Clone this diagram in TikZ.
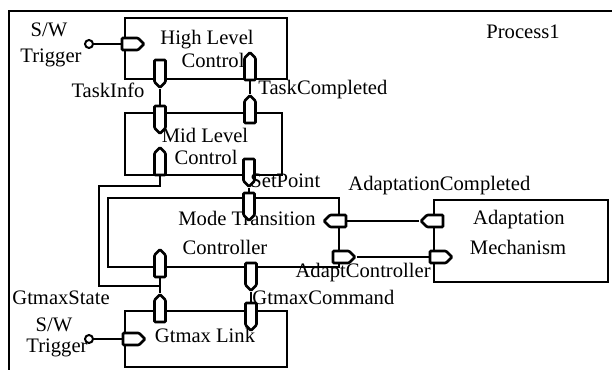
\documentclass[tikz,border=0pt]{standalone}
\usepackage{fontspec}
\setmainfont{Liberation Serif}
\usetikzlibrary{shapes.symbols}
\begin{document}
\begin{tikzpicture}[x=0.5pt,y=-0.5pt,
  every node/.style={font=\fontsize{10.3pt}{11pt}\selectfont, inner sep=0pt},
  block/.style={draw, line width=1.4pt, minimum width=#1},
  portv/.style={signal, signal from=nowhere, signal to=#1, draw, fill=white,
    line width=1.3pt, rounded corners=0.5pt, minimum width=5.5pt, minimum height=11pt},
  porth/.style={signal, signal from=nowhere, signal to=#1, draw, fill=white,
    line width=1.3pt, rounded corners=0.5pt, minimum width=11pt, minimum height=6pt},
  trig/.style={circle, draw, fill=white, line width=1pt, minimum size=4pt},
  wire/.style={line width=1.1pt},
  lbl/.style={}]
\useasboundingbox (0,0) rectangle (612,370);

% enclosing process frame
\draw[line width=1.2pt] (9,370) -- (9,11) -- (612,11);
\node[lbl, anchor=west] (proc) at (486,32) {Process1};

% blocks
\node[block=81pt, minimum height=30.5pt] (hlc) at (206,48.5) {};
\node[block=78.5pt, minimum height=31pt] (mlc) at (203.5,144) {};
\node[block=115.5pt, minimum height=34.5pt] (mtc) at (223.5,232.5) {};
\node[block=81pt, minimum height=28pt] (gl) at (206,339) {};
\node[block=87pt, minimum height=41pt] (am) at (521,241) {};

% block titles
\node[lbl] (hlcA) at (207,40) {High Level};
\node[lbl] (hlcB) at (213,60) {Control};
\node[lbl] (mlcA) at (205,135) {Mid Level};
\node[lbl] (mlcB) at (206,157) {Control};
\node[lbl] (mtcA) at (247,218) {Mode Transition};
\node[lbl] (mtcB) at (225,247) {Controller};
\node[lbl] (glA) at (205,335) {Gtmax Link};
\node[lbl] (amA) at (519,220) {Adaptation};
\node[lbl] (amB) at (518,247) {Mechanism};

% ports
\node[porth=east] (hTrig) at (130,44) {};
\node[portv=south] (hInfo) at (160,71) {};
\node[portv=north] (hDone) at (250,69) {};
\node[portv=south] (mInfo) at (160,117) {};
\node[portv=north] (mDone) at (250,112) {};
\node[portv=north] (mState) at (160,164) {};
\node[portv=south] (mSet) at (249,170) {};
\node[portv=south] (tSet) at (249,204) {};
\node[portv=north] (tState) at (160,266) {};
\node[portv=south] (tCmd) at (251,274) {};
\node[porth=west] (tDone) at (338,221) {};
\node[porth=east] (tAdapt) at (341,257) {};
\node[porth=west] (aDone) at (435,221) {};
\node[porth=east] (aAdapt) at (438,257) {};
\node[portv=north] (gState) at (160,311) {};
\node[portv=south] (gCmd) at (251,314) {};
\node[porth=east] (gTrig) at (131,339) {};

% software triggers
\node[trig] (c1) at (89,44) {};
\node[trig] (c2) at (89,339) {};

% connectors
\coordinate (wBend) at (99,186);
\coordinate (J) at (160,286);
\draw[wire] (c1) -- (hTrig.west);
\draw[wire] (c2) -- (gTrig.west);
\draw[wire] (hInfo.south) -- (mInfo.north);
\draw[wire] (mDone.north) -- (hDone.south);
\draw[wire] (mSet.south) -- (tSet.north);
\draw[wire] (gState.north) -- (tState.south);
\draw[wire] (mState.south) |- (wBend) |- (J);
\draw[wire] (tCmd.south) -- (gCmd.north);
\draw[wire] (aDone.west) -- (tDone.east);
\draw[wire] (tAdapt.east) -- (aAdapt.west);

% signal labels
\node[lbl] (sw1) at (49,30) {S/W};
\node[lbl] (tr1) at (51,58) {Trigger};
\node[lbl] (info) at (108,90) {TaskInfo};
\node[lbl, anchor=west] (done) at (258,90) {TaskCompleted};
\node[lbl, anchor=west] (setp) at (250,181) {SetPoint};
\node[lbl, anchor=west] (adone) at (348,186) {AdaptationCompleted};
\node[lbl, anchor=east] (actl) at (431,273) {AdaptController};
\node[lbl, anchor=west] (gcmd) at (252,297) {GtmaxCommand};
\node[lbl, anchor=west] (gst) at (12,298) {GtmaxState};
\node[lbl] (sw2) at (54,325) {S/W};
\node[lbl] (tr2) at (57,348) {Trigger};
\end{tikzpicture}
\end{document}
